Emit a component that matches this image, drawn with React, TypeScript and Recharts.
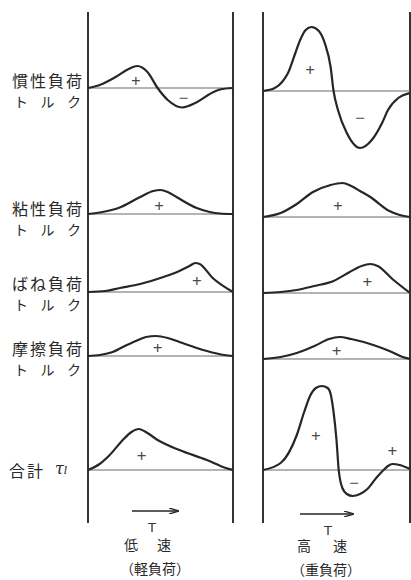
import { LineChart, Line, XAxis, YAxis, ReferenceLine, ReferenceDot } from "recharts";

type Pt = { t: number; v: number };
type Sign = { t: number; v: number; s: string };

// t = % of one cycle, v = torque (arbitrary units)
const inertiaLow: Pt[] = [
  { t: 0, v: 0 }, { t: 8, v: 3 }, { t: 19, v: 11 }, { t: 28, v: 19 }, { t: 34, v: 22 },
  { t: 41, v: 16 }, { t: 48, v: 0 }, { t: 55, v: -12 }, { t: 65, v: -19.5 }, { t: 74, v: -15 },
  { t: 84, v: -6 }, { t: 91, v: -1.5 }, { t: 100, v: 0 },
];
const inertiaHigh: Pt[] = [
  { t: 0, v: 0 }, { t: 8, v: 3 }, { t: 13, v: 9 }, { t: 17, v: 18 }, { t: 22, v: 38 },
  { t: 25, v: 50 }, { t: 29, v: 61 }, { t: 33, v: 64 }, { t: 38, v: 60 }, { t: 42, v: 48 },
  { t: 46, v: 24 }, { t: 48, v: 0 }, { t: 51, v: -19 }, { t: 57, v: -42 }, { t: 66, v: -57 },
  { t: 74, v: -49 }, { t: 81, v: -32 }, { t: 85, v: -19 }, { t: 92, v: -7 }, { t: 100, v: -2 },
];
const viscousLow: Pt[] = [
  { t: 0, v: 0 }, { t: 10, v: 2 }, { t: 21, v: 6 }, { t: 36, v: 17 }, { t: 45, v: 23 },
  { t: 50, v: 24 }, { t: 55, v: 22 }, { t: 61, v: 17 }, { t: 75, v: 6 }, { t: 84, v: 2 },
  { t: 91, v: 0.5 }, { t: 100, v: 0 },
];
const viscousHigh: Pt[] = [
  { t: 0, v: 0 }, { t: 12, v: 4 }, { t: 23, v: 13 }, { t: 34, v: 25 }, { t: 46, v: 32 },
  { t: 54, v: 34 }, { t: 60, v: 31 }, { t: 66, v: 26 }, { t: 73, v: 20 }, { t: 86, v: 6 },
  { t: 93, v: 2 }, { t: 100, v: 0 },
];
const springLow: Pt[] = [
  { t: 0, v: 0 }, { t: 12, v: 1 }, { t: 22, v: 4 }, { t: 36, v: 8 }, { t: 52, v: 15 },
  { t: 63, v: 21 }, { t: 70, v: 26 }, { t: 74, v: 29 }, { t: 77, v: 28 }, { t: 86, v: 14 },
  { t: 100, v: 0 },
];
const springHigh: Pt[] = [
  { t: 0, v: 0 }, { t: 12, v: 1 }, { t: 23, v: 3 }, { t: 35, v: 7 }, { t: 48, v: 12 },
  { t: 59, v: 21 }, { t: 67, v: 27 }, { t: 73, v: 29 }, { t: 78, v: 27 }, { t: 88, v: 14 },
  { t: 100, v: 0 },
];
const frictionLow: Pt[] = [
  { t: 0, v: 0 }, { t: 8, v: 1 }, { t: 17, v: 4 }, { t: 24, v: 9 }, { t: 33, v: 15 },
  { t: 40, v: 19 }, { t: 47, v: 20 }, { t: 55, v: 18 }, { t: 63, v: 14 }, { t: 75, v: 8 },
  { t: 82, v: 5 }, { t: 94, v: 1 }, { t: 100, v: 0 },
];
const frictionHigh: Pt[] = [
  { t: 0, v: 0 }, { t: 12, v: 2 }, { t: 23, v: 6 }, { t: 35, v: 13 }, { t: 45, v: 20 },
  { t: 52, v: 22 }, { t: 60, v: 20 }, { t: 75, v: 14 }, { t: 86, v: 8 }, { t: 95, v: 2 },
  { t: 100, v: 0 },
];
const totalLow: Pt[] = [
  { t: 0, v: 0 }, { t: 8, v: 6 }, { t: 15, v: 15 }, { t: 24, v: 30 }, { t: 30, v: 38 },
  { t: 35, v: 41 }, { t: 41, v: 37 }, { t: 48, v: 30 }, { t: 63, v: 20 }, { t: 82, v: 10 },
  { t: 95, v: 2 }, { t: 100, v: 0 },
];
const totalHigh: Pt[] = [
  { t: 0, v: 0 }, { t: 12, v: 7 }, { t: 23, v: 35 }, { t: 28, v: 58 }, { t: 32, v: 74 },
  { t: 36, v: 82 }, { t: 40, v: 84 }, { t: 44, v: 82 }, { t: 46, v: 76 }, { t: 48, v: 58 },
  { t: 50, v: 30 }, { t: 51.5, v: 0 }, { t: 54, v: -18 }, { t: 57, v: -24 }, { t: 61, v: -26 },
  { t: 66, v: -24 }, { t: 71, v: -19 }, { t: 77, v: -8 }, { t: 82, v: 0 }, { t: 85, v: 4 },
  { t: 88, v: 6 }, { t: 93, v: 5 }, { t: 100, v: 1 },
];

const inertiaLowSigns: Sign[] = [{ t: 33, v: 7.5, s: "+" }, { t: 66, v: -9.5, s: "−" }];
const inertiaHighSigns: Sign[] = [{ t: 32, v: 22, s: "+" }, { t: 66, v: -26, s: "−" }];
const viscousLowSigns: Sign[] = [{ t: 49, v: 9, s: "+" }];
const viscousHighSigns: Sign[] = [{ t: 51, v: 12, s: "+" }];
const springLowSigns: Sign[] = [{ t: 75, v: 12, s: "+" }];
const springHighSigns: Sign[] = [{ t: 71, v: 12, s: "+" }];
const frictionLowSigns: Sign[] = [{ t: 48, v: 9, s: "+" }];
const frictionHighSigns: Sign[] = [{ t: 50, v: 9, s: "+" }];
const totalLowSigns: Sign[] = [{ t: 37, v: 15, s: "+" }];
const totalHighSigns: Sign[] = [
  { t: 36, v: 35, s: "+" }, { t: 62, v: -12, s: "−" }, { t: 88, v: 20, s: "+" },
];

const rowLabels = ["慣性負荷", "粘性負荷", "ばね負荷", "摩擦負荷"];
const unitLabel = "トルク";
const totalLabel = "合計";
const captions = ["低速", "高速"];
const subCaptions = ["（軽負荷）", "（重負荷）"];

const JP = '"Noto Sans CJK JP", "Noto Sans", sans-serif';
const INK = "#262626";

function Wave({ data, signs, left, width, baseline, A, B }: {
  data: Pt[]; signs: Sign[]; left: number; width: number; baseline: number; A: number; B: number;
}) {
  return (
    <div style={{ position: "absolute", left, top: baseline - B }}>
      <LineChart width={width} height={A + B} data={data} margin={{ top: 0, right: 0, bottom: 0, left: 0 }}>
        <XAxis type="number" dataKey="t" domain={[0, 100]} hide />
        <YAxis type="number" domain={[-A, B]} hide />
        <ReferenceLine y={0} stroke="#6a6a6a" strokeWidth={1.2} />
        <Line type="monotone" dataKey="v" stroke={INK} strokeWidth={2.2} dot={false} isAnimationActive={false} />
        {signs.map((g, i) => (
          <ReferenceDot
            key={i}
            x={g.t}
            y={g.v}
            r={0}
            shape={(p: any) => (
              <text x={p.cx} y={p.cy} textAnchor="middle" dominantBaseline="central"
                fontSize={17} fontFamily="Noto Sans" fontWeight={400} fill="#4a4a4a" stroke="none">
                {g.s}
              </text>
            )}
          />
        ))}
      </LineChart>
    </div>
  );
}

// spreads characters evenly across a fixed span, like the typeset original
function Spread({ chars, left, width, top, size = 14, lh = 18 }: {
  chars: string[]; left: number; width: number; top: number; size?: number; lh?: number;
}) {
  return (
    <div style={{ position: "absolute", left, top, width, display: "flex", justifyContent: "space-between", fontSize: size, lineHeight: `${lh}px`, whiteSpace: "nowrap" }}>
      {chars.map((c, i) => <span key={i}>{c}</span>)}
    </div>
  );
}

const L = { left: 88, width: 145 };
const R = { left: 263, width: 147 };

export default function App() {
  return (
    <div style={{ position: "absolute", left: 0, top: 0, width: 411, height: 580, background: "#fff", overflow: "hidden", fontFamily: JP, color: "#2a2a2a" }}>
      <svg width={411} height={580} style={{ position: "absolute", left: 0, top: 0 }}>
        <defs>
          <marker id="ah" markerWidth="10" markerHeight="6" refX="9" refY="3" orient="auto" markerUnits="userSpaceOnUse">
            <path d="M0,0 L10,3 L0,6" fill="none" stroke={INK} strokeWidth={1.3} />
          </marker>
        </defs>
        {[88, 233, 263, 410].map((x) => (
          <line key={x} x1={x} x2={x} y1={12} y2={523} stroke="#333" strokeWidth={2} />
        ))}
        <line x1={132} x2={178} y1={511} y2={511} stroke={INK} strokeWidth={1.5} markerEnd="url(#ah)" />
        <line x1={300} x2={353} y1={514} y2={514} stroke={INK} strokeWidth={1.5} markerEnd="url(#ah)" />
        <text x={152} y={532} textAnchor="middle" fontSize={13} fontFamily="DejaVu Sans" fill="#333">T</text>
        <text x={328} y={535} textAnchor="middle" fontSize={13} fontFamily="DejaVu Sans" fill="#333">T</text>
      </svg>

      <Wave data={inertiaLow} signs={inertiaLowSigns} {...L} baseline={88} A={65} B={75} />
      <Wave data={inertiaHigh} signs={inertiaHighSigns} {...R} baseline={91} A={65} B={75} />
      <Wave data={viscousLow} signs={viscousLowSigns} {...L} baseline={214} A={10} B={40} />
      <Wave data={viscousHigh} signs={viscousHighSigns} {...R} baseline={217} A={10} B={40} />
      <Wave data={springLow} signs={springLowSigns} {...L} baseline={292} A={10} B={35} />
      <Wave data={springHigh} signs={springHighSigns} {...R} baseline={293} A={10} B={35} />
      <Wave data={frictionLow} signs={frictionLowSigns} {...L} baseline={356} A={10} B={30} />
      <Wave data={frictionHigh} signs={frictionHighSigns} {...R} baseline={359} A={10} B={30} />
      <Wave data={totalLow} signs={totalLowSigns} {...L} baseline={470} A={35} B={90} />
      <Wave data={totalHigh} signs={totalHighSigns} {...R} baseline={470} A={35} B={90} />

      {rowLabels.map((lab, i) => {
        const y = [80, 208, 283, 348][i];
        return (
          <div key={lab}>
            <Spread chars={lab.split("")} left={12} width={70} top={y - 9} size={16} />
            <Spread chars={unitLabel.split("")} left={14} width={67} top={y + 12} size={14} />
          </div>
        );
      })}
      <Spread chars={totalLabel.split("")} left={9} width={34} top={461} size={16} />
      <div style={{ position: "absolute", left: 55, top: 460, fontSize: 16, lineHeight: "18px", fontFamily: "DejaVu Serif", fontStyle: "italic", whiteSpace: "nowrap" }}>
        τ<span style={{ fontSize: 11 }}>l</span>
      </div>

      <Spread chars={captions[0].split("")} left={124} width={47} top={537} size={14} lh={15} />
      <div style={{ position: "absolute", left: 115, width: 80, top: 560, textAlign: "center", fontSize: 14, lineHeight: "16px", whiteSpace: "nowrap" }}>{subCaptions[0]}</div>
      <Spread chars={captions[1].split("")} left={297} width={50} top={538} size={14} lh={15} />
      <div style={{ position: "absolute", left: 286, width: 80, top: 561, textAlign: "center", fontSize: 14, lineHeight: "16px", whiteSpace: "nowrap" }}>{subCaptions[1]}</div>
    </div>
  );
}
